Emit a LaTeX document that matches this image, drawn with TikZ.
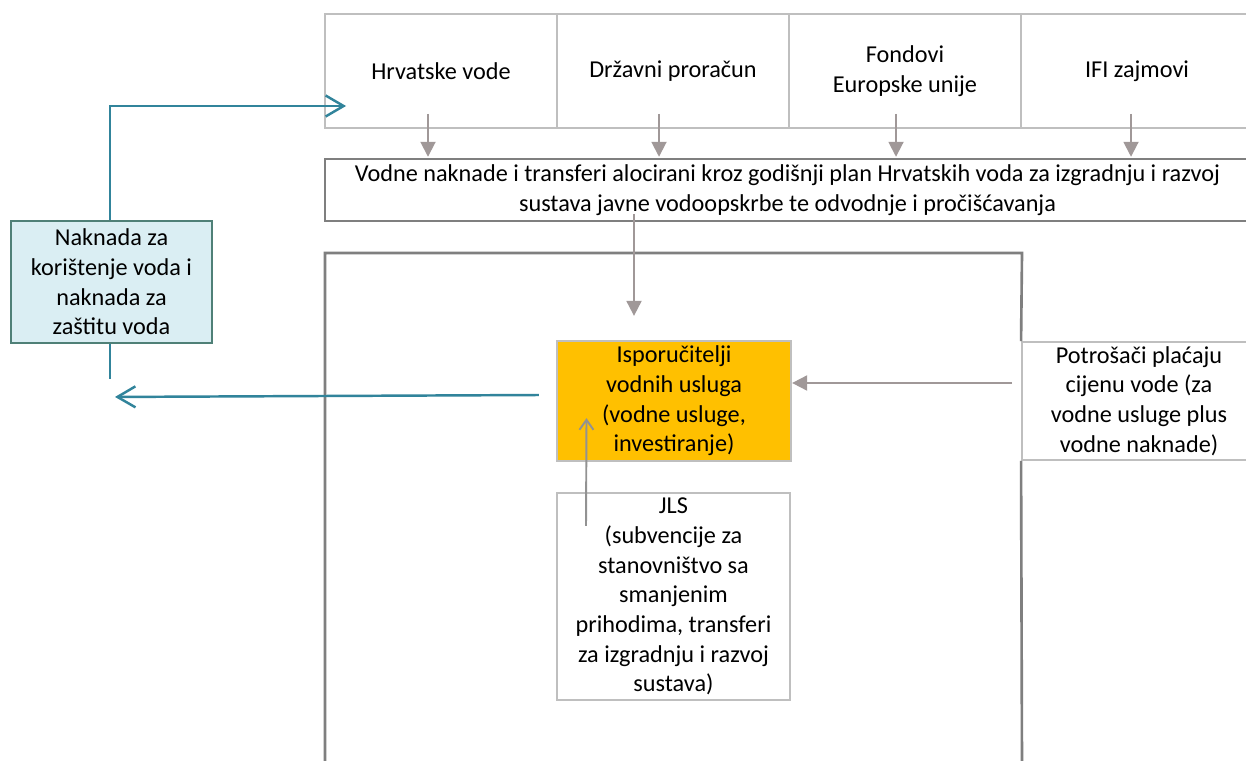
\documentclass[tikz,border=0pt]{standalone}
\usepackage{fontspec}
\setmainfont{Carlito}
\usetikzlibrary{arrows.meta,calc}
\definecolor{hvgrey}{HTML}{BFBFBF}
\definecolor{hvdark}{HTML}{7F7F7F}
\definecolor{hvteal}{HTML}{31849B}
\definecolor{hvpale}{HTML}{DAEEF3}
\definecolor{hvedge}{HTML}{4F8077}
\definecolor{hvorange}{HTML}{FFC000}
\definecolor{hvarrow}{HTML}{A09898}

\begin{document}
\begin{tikzpicture}[
    x=0.02cm, y=-0.02cm,
    font=\fontsize{13.8}{16.9}\selectfont,
    cell/.style={draw=hvgrey, line width=1.1pt, align=center, inner sep=0pt,
      minimum width=4.64cm, minimum height=2.28cm},
    bar/.style={draw=hvdark, line width=1.4pt, align=center, inner sep=0pt,
      minimum width=18.5cm, minimum height=1.24cm},
    plainbox/.style={draw=hvgrey, line width=1.3pt, align=center, inner sep=0pt,
      minimum width=4.68cm, minimum height=2.4cm},
    provider/.style={plainbox, fill=hvorange},
    fee/.style={draw=hvedge, line width=1.1pt, fill=hvpale, align=center,
      inner sep=0pt, minimum width=4.02cm, minimum height=2.44cm},
    frame/.style={draw=hvdark, line width=1.5pt},
    feed/.style={-{Triangle[length=3mm,width=3mm]}, line width=1.1pt, draw=hvarrow},
    lift/.style={-{Straight Barb[length=2mm,width=2.8mm]}, line width=1.1pt, draw=hvdark!85!white},
    refund/.style={-{Straight Barb[length=3.6mm,width=4.2mm]}, line width=1.4pt, draw=hvteal},
    stub/.style={line width=1.4pt, draw=hvteal}
  ]
    \clip (0,0) rectangle (1246,760);
    \fill[white] (0,0) rectangle (1246,760);

    % sources of money
    \node[cell] (hv) at (441,71) {Hrvatske vode};
    \node[cell] (dp) at (673,71) {Državni proračun};
    \node[cell] (eu) at (905,71) {Fondovi\\Europske unije};
    \node[cell] (ifi) at (1137,71) {IFI zajmovi};

    \node[bar] (plan) at (787.5,190) {\raisebox{-3pt}{\parbox{18cm}{\centering Vodne naknade i transferi alocirani kroz godišnji plan Hrvatskih voda za izgradnju i razvoj\\sustava javne vodoopskrbe te odvodnje i pročišćavanja}}};

    \node[provider] (isp) at (674,401) {Isporučitelji\\vodnih usluga\\(vodne usluge,\\investiranje)};
    \node[plainbox, minimum width=4.66cm, minimum height=4.14cm] (jls) at (673.5,596.5) {JLS\\(subvencije za\\stanovništvo sa\\smanjenim\\prihodima, transferi\\za izgradnju i razvoj\\sustava)};
    \node[plainbox, line width=1.1pt, minimum height=2.36cm] (pot) at (1139,401) {Potrošači plaćaju\\cijenu vode (za\\vodne usluge plus\\vodne naknade)};
    \node[fee] (naknada) at (111.5,282) {Naknada za\\korištenje voda i\\naknada za\\zaštitu voda};

    % open frame round the providers
    \draw[frame] (325,770) -- (325,253) -- (1022,253) -- (pot.north west);
    \draw[frame] (pot.south west) -- (1022,770);

    \draw[feed] ($(hv.south)+(-13,-15)$) -- ($(hv.south |- plan.north)+(-13,-1)$);
    \draw[feed] ($(dp.south)+(-14,-15)$) -- ($(dp.south |- plan.north)+(-14,-1)$);
    \draw[feed] ($(eu.south)+(-9,-15)$) -- ($(eu.south |- plan.north)+(-9,-1)$);
    \draw[feed] ($(ifi.south)+(-6,-15)$) -- ($(ifi.south |- plan.north)+(-6,-1)$);
    \draw[feed] ($(isp.north |- plan.south)+(-40,-8)$) -- ($(isp.north)+(-40,-24)$);
    \draw[feed] ($(pot.west)+(-9,-18)$) -- ($(isp.east)+(0,-18)$);
    \draw[lift] ($(jls.north)+(-87.5,34)$) -- ($(isp.south)+(-87.5,-44)$);

    % fees back to Hrvatske vode
    \coordinate (stubend) at ($(naknada.south)+(-1.5,35)$);
    \coordinate (refundtip) at ($(naknada.south)+(3.5,53)$);
    \draw[refund] ($(naknada.north)+(-1.5,0)$) |- ($(hv.west)+(22,35)$);
    \draw[stub] ($(naknada.south)+(-1.5,0)$) -- (stubend);
    \draw[refund] ($(isp.west)+(-17,-6)$) -- (refundtip);
  \end{tikzpicture}
\end{document}
